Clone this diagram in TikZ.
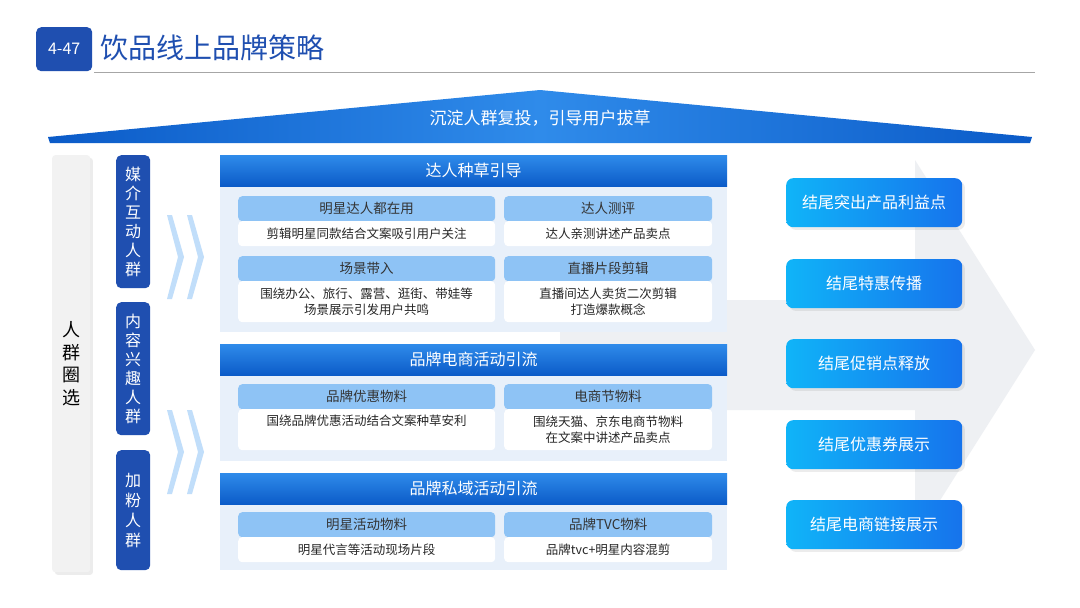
\documentclass[tikz,border=0pt]{standalone}
\usepackage{fontspec}
\setmainfont{Noto Sans CJK SC}
\usetikzlibrary{shadows}
\definecolor{dkblue}{HTML}{1F4FB0}
\definecolor{hdA}{HTML}{2F8BEA}
\definecolor{hdB}{HTML}{0B5BC8}
\definecolor{subhd}{HTML}{8EC3F5}
\definecolor{panelbg}{HTML}{E8F0FA}
\definecolor{btnA}{HTML}{10B4F8}
\definecolor{btnB}{HTML}{1673EC}
\definecolor{arrowgray}{HTML}{EEF0F3}
\begin{document}
\begin{tikzpicture}[x=1pt,y=-1pt,
  fs/.style={font=\fontsize{#1}{\dimexpr #1pt*5/4\relax}\selectfont},
  hdr/.style={draw=none,top color=hdA,bottom color=hdB,minimum width=507pt,minimum height=31pt,text=white,fs=16,anchor=north west},
  body/.style={fill=panelbg,draw=none,anchor=north west,minimum width=507pt},
  shd/.style={fill=subhd,rounded corners=4pt,minimum width=#1,minimum height=25pt,anchor=north west,fs=13.5,text=black!80},
  sbd/.style={fill=white,rounded corners=4pt,anchor=north west,fs=12.5,text=black!85,align=center},
  vbox/.style={fill=dkblue,rounded corners=5pt,minimum width=34pt,anchor=north west,text=white,fs=16,align=center},
  btn/.style={left color=btnA,right color=btnB,rounded corners=7pt,minimum width=176pt,minimum height=49pt,anchor=north west,text=white,fs=16,drop shadow={opacity=0.15}},
  chev/.style={fill=subhd!55,draw=none}]
\useasboundingbox (0,0) rectangle (1080,608);
\fill[white] (0,0) rectangle (1080,608);
% title
\node[fill=dkblue,rounded corners=5pt,minimum width=56pt,minimum height=44pt,text=white,fs=16,anchor=north west] (badge) at (36,27) {4-47};
\node[anchor=west,text=dkblue,fs=28,inner sep=0] (title) at (100,48) {饮品线上品牌策略};
\draw[gray!70,line width=1pt] (94,72) -- (1035,72);
% roof
\shade[left color=hdB,right color=hdB,middle color=hdA] (48,137) -- (540,90) -- (1032,137) -- (1030,143) -- (50,143) -- cycle;
\node[text=white,fs=17] (roof) at (540,118) {沉淀人群复投，引导用户拔草};
% big gray arrow
\fill[arrowgray] (560,300) -- (915,300) -- (915,160) -- (1035,350) -- (915,540) -- (915,410) -- (560,410) -- cycle;
% left column
\node[fill=gray!10,rounded corners=3pt,minimum width=38pt,minimum height=417pt,anchor=north west,drop shadow={opacity=0.15},fs=18,align=center] (sel) at (52,155) {人\\群\\圈\\选};
\node[vbox,minimum height=133pt,font=\fontsize{16}{19}\selectfont] (v1) at (116,155) {媒\\介\\互\\动\\人\\群};
\node[vbox,minimum height=133pt,font=\fontsize{16}{19}\selectfont] (v2) at (116,302) {内\\容\\兴\\趣\\人\\群};
\node[vbox,minimum height=120pt] (v3) at (116,450) {加\\粉\\人\\群};
% chevrons
\foreach \yy in {215,410}{
 \fill[chev] (167,\yy) -- (172,\yy) -- (184,\yy+42) -- (172,\yy+84) -- (167,\yy+84) -- (178,\yy+42) -- cycle;
 \fill[chev] (187,\yy) -- (192,\yy) -- (204,\yy+42) -- (192,\yy+84) -- (187,\yy+84) -- (198,\yy+42) -- cycle;
}
% panel 1
\node[body,minimum height=146pt] (b1) at (220,186) {};
\node[hdr] (h1) at (220,155) {达人种草引导};
\node[shd=257pt] (s11) at (238,196) {明星达人都在用};
\node[sbd,minimum width=257pt,minimum height=25pt] (d11) at (238,221) {剪辑明星同款结合文案吸引用户关注};
\node[shd=208pt] (s12) at (504,196) {达人测评};
\node[sbd,minimum width=208pt,minimum height=25pt] (d12) at (504,221) {达人亲测讲述产品卖点};
\node[shd=257pt] (s13) at (238,256) {场景带入};
\node[sbd,minimum width=257pt,minimum height=41pt] (d13) at (238,281) {围绕办公、旅行、露营、逛街、带娃等\\场景展示引发用户共鸣};
\node[shd=208pt] (s14) at (504,256) {直播片段剪辑};
\node[sbd,minimum width=208pt,minimum height=41pt] (d14) at (504,281) {直播间达人卖货二次剪辑\\打造爆款概念};
% panel 2
\node[body,minimum height=86pt] (b2) at (220,375) {};
\node[hdr] (h2) at (220,344) {品牌电商活动引流};
\node[shd=257pt] (s21) at (238,384) {品牌优惠物料};
\node[sbd,minimum width=257pt,minimum height=41pt,anchor=north west] (d21) at (238,409) {};
\node[fs=12.5,text=black!85,anchor=north] at (366.5,411) {国绕品牌优惠活动结合文案种草安利};
\node[shd=208pt] (s22) at (504,384) {电商节物料};
\node[sbd,minimum width=208pt,minimum height=41pt] (d22) at (504,409) {围绕天猫、京东电商节物料\\在文案中讲述产品卖点};
% panel 3
\node[body,minimum height=66pt] (b3) at (220,504) {};
\node[hdr] (h3) at (220,473) {品牌私域活动引流};
\node[shd=257pt] (s31) at (238,512) {明星活动物料};
\node[sbd,minimum width=257pt,minimum height=25pt] (d31) at (238,537) {明星代言等活动现场片段};
\node[shd=208pt] (s32) at (504,512) {品牌TVC物料};
\node[sbd,minimum width=208pt,minimum height=25pt] (d32) at (504,537) {品牌tvc+明星内容混剪};
% buttons
\node[btn] (r1) at (786,178) {结尾突出产品利益点};
\node[btn] (r2) at (786,259) {结尾特惠传播};
\node[btn] (r3) at (786,339) {结尾促销点释放};
\node[btn] (r4) at (786,420) {结尾优惠券展示};
\node[btn] (r5) at (786,500) {结尾电商链接展示};
\end{tikzpicture}
\end{document}
